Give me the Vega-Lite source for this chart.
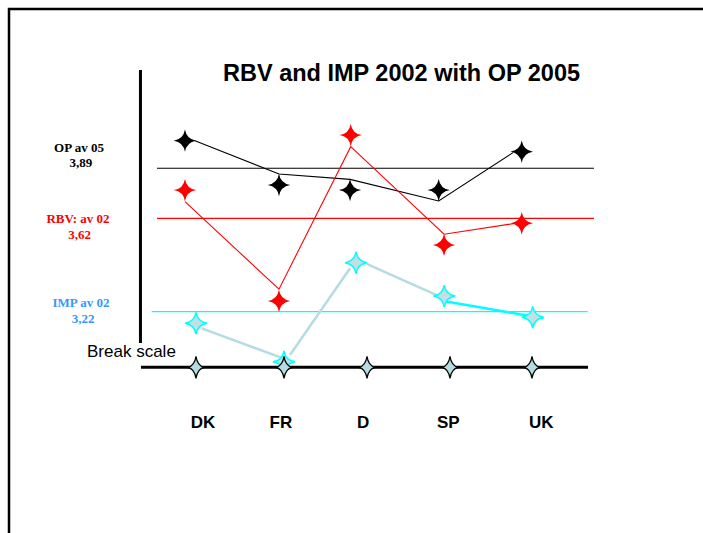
{
  "$schema": "https://vega.github.io/schema/vega-lite/v6.json",
  "width": 756,
  "height": 560,
  "autosize": {"type": "none"},
  "padding": {"left": 9, "top": 9, "right": 0, "bottom": 0},
  "background": "#ffffff",
  "config": {"view": {"stroke": "#000000", "strokeWidth": 2.5}},
  "datasets": {
    "averages": [
      {"series": "OP", "x": 0.512, "x2": 5.714, "y": 3.872},
      {"series": "RBV", "x": 0.512, "x2": 5.714, "y": 3.638},
      {"series": "IMP", "x": 0.449, "x2": 5.639, "y": 3.202}
    ],
    "scaleLines": [
      {"part": "vertical", "x": 0.315, "x2": 0.315, "y": 4.331, "y2": 3.056},
      {"part": "break", "x": 0.321, "x2": 5.643, "y": 2.942, "y2": 2.942}
    ],
    "lines": [
      {"series": "OP", "country": "DK", "x": 0.964, "y": 4.001},
      {"series": "OP", "country": "FR", "x": 1.964, "y": 3.845},
      {"series": "OP", "country": "D", "x": 2.810, "y": 3.820},
      {"series": "OP", "country": "SP", "x": 3.865, "y": 3.719},
      {"series": "OP", "country": "UK", "x": 4.750, "y": 3.945},
      {"series": "RBV", "country": "DK", "x": 0.845, "y": 3.716},
      {"series": "RBV", "country": "FR", "x": 1.964, "y": 3.307},
      {"series": "RBV", "country": "D", "x": 2.818, "y": 3.973},
      {"series": "RBV", "country": "SP", "x": 3.929, "y": 3.564},
      {"series": "RBV", "country": "UK", "x": 4.833, "y": 3.618}
    ],
    "impLinks": [
      {"segment": "DK-FR", "x": 1.044, "y": 3.124, "x2": 2.015, "y2": 2.984},
      {"segment": "FR-D", "x": 2.095, "y": 3.000, "x2": 2.810, "y2": 3.405},
      {"segment": "D-SP", "x": 3.008, "y": 3.425, "x2": 3.881, "y2": 3.272},
      {"segment": "SP-UK", "x": 3.920, "y": 3.252, "x2": 5.111, "y2": 3.171}
    ],
    "stars": [
      {"series": "OP", "country": "DK", "x": 0.845, "y": 4.001},
      {"series": "OP", "country": "FR", "x": 1.964, "y": 3.794},
      {"series": "OP", "country": "D", "x": 2.810, "y": 3.770},
      {"series": "OP", "country": "SP", "x": 3.865, "y": 3.770},
      {"series": "OP", "country": "UK", "x": 4.854, "y": 3.949},
      {"series": "RBV", "country": "DK", "x": 0.845, "y": 3.770},
      {"series": "RBV", "country": "FR", "x": 1.964, "y": 3.252},
      {"series": "RBV", "country": "D", "x": 2.818, "y": 4.027},
      {"series": "RBV", "country": "SP", "x": 3.929, "y": 3.514},
      {"series": "RBV", "country": "UK", "x": 4.854, "y": 3.615}
    ],
    "impStars": [
      {"country": "DK", "x": 0.976, "y": 3.148},
      {"country": "FR", "x": 2.024, "y": 2.968},
      {"country": "D", "x": 2.881, "y": 3.431},
      {"country": "SP", "x": 3.932, "y": 3.275},
      {"country": "UK", "x": 4.985, "y": 3.176}
    ],
    "breakStars": [
      {"country": "DK", "x": 0.976, "y": 2.942},
      {"country": "FR", "x": 2.024, "y": 2.942},
      {"country": "D", "x": 3.012, "y": 2.942},
      {"country": "SP", "x": 4.0, "y": 2.942},
      {"country": "UK", "x": 4.976, "y": 2.942}
    ],
    "title": [
      {"text": "RBV and IMP 2002 with OP 2005", "x": 3.423, "y": 4.28}
    ],
    "labels": [
      {"series": "OP", "text": "OP av 05", "x": -0.417, "y": 3.949},
      {"series": "OP", "text": "3,89", "x": -0.393, "y": 3.879},
      {"series": "RBV", "text": "RBV: av 02", "x": -0.429, "y": 3.615},
      {"series": "RBV", "text": "3,62", "x": -0.408, "y": 3.540},
      {"series": "IMP", "text": "IMP av 02", "x": -0.393, "y": 3.225},
      {"series": "IMP", "text": "3,22", "x": -0.369, "y": 3.151}
    ],
    "countries": [
      {"country": "DK", "x": 1.060, "y": 2.659},
      {"country": "FR", "x": 1.986, "y": 2.659},
      {"country": "D", "x": 2.967, "y": 2.659},
      {"country": "SP", "x": 3.980, "y": 2.659},
      {"country": "UK", "x": 5.087, "y": 2.659}
    ],
    "breakLabel": [
      {"text": "Break scale", "x": -0.321, "y": 2.990}
    ]
  },
  "encoding": {
    "x": {"field": "x", "type": "quantitative", "scale": {"domain": [-1.25, 7.75], "nice": false, "zero": false}, "axis": null},
    "y": {"field": "y", "type": "quantitative", "scale": {"domain": [2.0, 4.616], "nice": false, "zero": false}, "axis": null}
  },
  "layer": [
    {
      "data": {"name": "averages"},
      "mark": {"type": "rule", "strokeWidth": 1.2},
      "encoding": {
        "x2": {"field": "x2"},
        "color": {"field": "series", "type": "nominal", "scale": {"domain": ["OP", "RBV", "IMP"], "range": ["#000000", "#FF0000", "#00FFFF"]}, "legend": null}
      }
    },
    {
      "data": {"name": "scaleLines"},
      "mark": {"type": "rule", "strokeWidth": 3, "color": "#000000"},
      "encoding": {"x2": {"field": "x2"}, "y2": {"field": "y2"}}
    },
    {
      "data": {"name": "lines"},
      "mark": {"type": "line", "strokeWidth": 1.1},
      "encoding": {
        "color": {"field": "series", "type": "nominal", "scale": {"domain": ["OP", "RBV"], "range": ["#000000", "#FF0000"]}, "legend": null}
      }
    },
    {
      "data": {"name": "impLinks"},
      "mark": {"type": "rule", "strokeWidth": 2.5},
      "encoding": {
        "x2": {"field": "x2"},
        "y2": {"field": "y2"},
        "color": {"field": "segment", "type": "nominal", "scale": {"domain": ["DK-FR", "FR-D", "D-SP", "SP-UK"], "range": ["#B4DCE3", "#B4DCE3", "#B4DCE3", "#00FFFF"]}, "legend": null}
      }
    },
    {
      "data": {"name": "stars"},
      "mark": {"type": "point", "filled": true, "opacity": 1, "size": 500, "shape": "M0,-1 Q0.14,-0.14 1,0 Q0.14,0.14 0,1 Q-0.14,0.14 -1,0 Q-0.14,-0.14 0,-1 Z"},
      "encoding": {
        "color": {"field": "series", "type": "nominal", "scale": {"domain": ["OP", "RBV"], "range": ["#000000", "#FF0000"]}, "legend": null}
      }
    },
    {
      "data": {"name": "impStars"},
      "mark": {"type": "point", "filled": true, "opacity": 1, "fill": "#C2E0E4", "stroke": "#00FFFF", "strokeWidth": 1.5, "size": 484, "shape": "M0,-1 Q0.13,-0.13 1,0 Q0.13,0.13 0,1 Q-0.13,0.13 -1,0 Q-0.13,-0.13 0,-1 Z"}
    },
    {
      "data": {"name": "breakStars"},
      "mark": {"type": "point", "filled": true, "opacity": 1, "fill": "#B4DCE3", "stroke": "#000000", "strokeWidth": 1.2, "size": 484, "shape": "M0,-1 Q0.13,-0.13 0.75,0 Q0.13,0.13 0,1 Q-0.13,0.13 -0.75,0 Q-0.13,-0.13 0,-1 Z"}
    },
    {
      "data": {"name": "title"},
      "mark": {"type": "text", "font": "Liberation Sans", "fontWeight": "bold", "fontSize": 23.5, "align": "center", "baseline": "alphabetic", "color": "#000000"},
      "encoding": {"text": {"field": "text"}}
    },
    {
      "data": {"name": "labels"},
      "mark": {"type": "text", "font": "Liberation Serif", "fontWeight": "bold", "fontSize": 13, "align": "center", "baseline": "alphabetic"},
      "encoding": {
        "text": {"field": "text"},
        "color": {"field": "series", "type": "nominal", "scale": {"domain": ["OP", "RBV", "IMP"], "range": ["#000000", "#FF0000", "#3399FF"]}, "legend": null}
      }
    },
    {
      "data": {"name": "countries"},
      "mark": {"type": "text", "font": "Liberation Sans", "fontWeight": "bold", "fontSize": 17, "align": "center", "baseline": "alphabetic", "color": "#000000"},
      "encoding": {"text": {"field": "country"}}
    },
    {
      "data": {"name": "breakLabel"},
      "mark": {"type": "text", "font": "Liberation Sans", "fontSize": 17, "align": "left", "baseline": "alphabetic", "color": "#000000"},
      "encoding": {"text": {"field": "text"}}
    }
  ],
  "resolve": {"scale": {"color": "independent"}}
}
